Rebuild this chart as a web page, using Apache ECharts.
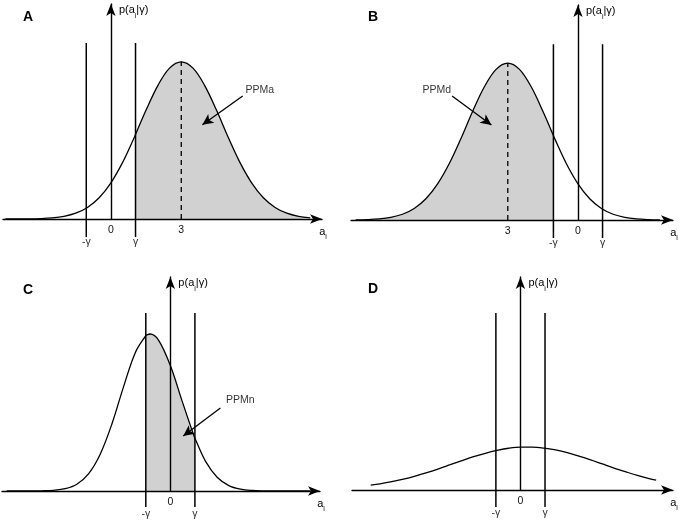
<!DOCTYPE html>
<html><head><meta charset="utf-8">
<script src="https://cdn.jsdelivr.net/npm/echarts@6/dist/echarts.min.js"></script>
<style>html,body{margin:0;padding:0;background:#fff}#c{width:680px;height:523px}</style>
</head><body><div id="c"></div>
<script>
// ---- data ----
const gamma = 1.05;
const panelLetters = ['A', 'B', 'C', 'D'];

const xsA = [-4.5,-4,-3.5,-3,-2.5,-2,-1.5,-1,-0.5,0,0.5,1,1.05,1.5,2,2.5,3,3.5,4,4.5,5,5.5,6,6.5,7,7.5,8,8.5];
const ysA = [0.0001,0.0003,0.001,0.0028,0.0072,0.0169,0.0367,0.0734,0.135,0.230,0.360,0.520,0.538,0.693,0.849,0.960,1,0.960,0.849,0.693,0.520,0.360,0.230,0.135,0.0734,0.0367,0.0169,0.0072];

const xsB = [-9.5,-9,-8.5,-8,-7.5,-7,-6.5,-6,-5.5,-5,-4.5,-4,-3.5,-3,-2.5,-2,-1.5,-1.05,-1,-0.5,0,0.5,1,1.5,2,2.5,3,3.5];
const ysB = [0.001,0.0028,0.0072,0.0169,0.0367,0.0734,0.135,0.230,0.360,0.520,0.693,0.849,0.960,1,0.960,0.849,0.693,0.538,0.520,0.360,0.230,0.135,0.0734,0.0367,0.0169,0.0072,0.0028,0.001];

const xsC = [-7,-6.5,-6,-5.5,-5,-4.5,-4,-3.5,-3,-2.5,-2,-1.5,-1.05,-1,-0.87,-0.5,0,0.5,1,1.05,1.5,2,2.5,3,3.5,4,4.5,5,5.5,6];
const ysC = [0,0,0.0002,0.0011,0.0043,0.0147,0.0434,0.109,0.234,0.427,0.665,0.881,0.990,0.995,1,0.960,0.799,0.574,0.355,0.336,0.190,0.0874,0.0347,0.0119,0.0035,0.0009,0.0002,0,0,0];

const xsD = [-6.4,-6,-5.5,-5,-4.5,-4,-3.5,-3,-2.5,-2,-1.5,-1,-0.5,0,0.5,1,1.5,2,2.5,3,3.5,4,4.5,5,5.5,5.8];
const ysD = [0.0307,0.0394,0.0530,0.0695,0.0890,0.111,0.135,0.161,0.187,0.212,0.234,0.252,0.266,0.273,0.273,0.267,0.255,0.238,0.216,0.192,0.166,0.140,0.116,0.093,0.073,0.0626];

const tickValsA = [-gamma, 0, gamma, 3];   const tickLabelsA = ['-γ', '0', 'γ', '3'];
const tickValsB = [-3, -gamma, 0, gamma];  const tickLabelsB = ['3', '-γ', '0', 'γ'];
const tickValsC = [-gamma, 0, gamma];      const tickLabelsC = ['-γ', '0', 'γ'];
const tickValsD = [-gamma, 0, gamma];      const tickLabelsD = ['-γ', '0', 'γ'];

const peakA = 3, peakB = -3;                // dashed line at the mode
const shadeA = [gamma, 99];                 // shaded interval (PPMa)
const shadeB = [-99, -gamma];               // shaded interval (PPMd)
const shadeC = [-gamma, gamma];             // shaded interval (PPMn)

const noteTextA = 'PPMa', notePosA = [6.35, 0.82],  arrowA = [[5.62, 0.783], [3.9, 0.6]];
const noteTextB = 'PPMd', notePosB = [-6.03, 0.828], arrowB = [[-5.38, 0.79], [-3.7, 0.605]];
const noteTextC = 'PPMn', notePosC = [2.99, 0.58],  arrowC = [[2.14, 0.529], [0.55, 0.35]];

const spanA = [-0.115, 1.12], spanB = [-0.115, 1.12], spanC = [-0.102, 1.134], spanD = [-0.108, 1.127];

// ---- layout ----
const FONT = 'Liberation Sans, Arial, Helvetica, sans-serif';
const grids = [
  {left: 3,   top: 4,   width: 319, height: 215},
  {left: 351, top: 5,   width: 322, height: 215},
  {left: 2,   top: 277, width: 318, height: 214},
  {left: 352, top: 277, width: 321, height: 213}
];
const xRanges = [[-4.6, 9.0], [-9.7, 4.06], [-7.2, 6.4], [-7.2, 6.52]];
const yMaxes = [1.368, 1.37, 1.363, 1.357];
const letterPos = [[23, 10], [368, 10], [23, 283], [368, 282]];

const panels = [
  {xs: xsA, ys: ysA, ticks: tickValsA, labels: tickLabelsA, peak: peakA, shade: shadeA, note: noteTextA, notePos: notePosA, arrow: arrowA, span: spanA},
  {xs: xsB, ys: ysB, ticks: tickValsB, labels: tickLabelsB, peak: peakB, shade: shadeB, note: noteTextB, notePos: notePosB, arrow: arrowB, span: spanB},
  {xs: xsC, ys: ysC, ticks: tickValsC, labels: tickLabelsC, peak: null, shade: shadeC, note: noteTextC, notePos: notePosC, arrow: arrowC, span: spanC},
  {xs: xsD, ys: ysD, ticks: tickValsD, labels: tickLabelsD, peak: null, shade: null, note: null, notePos: null, arrow: null, span: spanD}
];

const subRich = {
  n: {fontSize: 11, fontFamily: FONT, color: '#000', lineHeight: 14, verticalAlign: 'middle'},
  s: {fontSize: 7, fontFamily: FONT, color: '#000', lineHeight: 19, verticalAlign: 'bottom'}
};

const option = {animation: false, backgroundColor: '#fff', title: [], grid: [], xAxis: [], yAxis: [], series: []};

panels.forEach((p, i) => {
  option.title.push({text: panelLetters[i], left: letterPos[i][0], top: letterPos[i][1], padding: 0,
    textStyle: {fontSize: 14, fontWeight: 'bold', fontFamily: FONT, color: '#000'}});
  option.grid.push(Object.assign({containLabel: false}, grids[i]));
  option.xAxis.push({
    type: 'value', gridIndex: i, min: xRanges[i][0], max: xRanges[i][1], z: 3,
    splitLine: {show: false}, axisTick: {show: false},
    axisLine: {onZero: true, symbol: ['none', 'arrow'], symbolSize: [7, 12], lineStyle: {color: '#000', width: 1.4}},
    axisLabel: {
      customValues: p.ticks, margin: 6, fontSize: 10.5, fontFamily: FONT, color: '#111',
      formatter: v => {
        let k = 0, best = 1e9;
        p.ticks.forEach((t, j) => { if (Math.abs(t - v) < best) { best = Math.abs(t - v); k = j; } });
        const s = p.labels[k];
        return s.indexOf('γ') >= 0 ? '{g|' + s + '}' : s;
      },
      rich: {g: {fontSize: 10.5, fontFamily: FONT, color: '#333', padding: [12, 0, 0, 0]}}
    },
    name: '{n|a}{s|i}', nameLocation: 'end', nameGap: 1,
    nameTextStyle: {align: 'center', verticalAlign: 'top', padding: [3, 0, 0, 0], rich: subRich}
  });
  option.yAxis.push({
    type: 'value', gridIndex: i, min: 0, max: yMaxes[i], z: 3,
    splitLine: {show: false}, axisTick: {show: false}, axisLabel: {show: false},
    axisLine: {onZero: true, symbol: ['none', 'arrow'], symbolSize: [7, 12], lineStyle: {color: '#000', width: 1.4}},
    name: '{n|p(a}{s|i}{n||γ)}', nameLocation: 'end', nameGap: -6,
    nameTextStyle: {align: 'left', verticalAlign: 'middle', padding: [0, 0, 0, 8], rich: subRich}
  });

  const curve = p.xs.map((x, j) => [x, p.ys[j]]);
  if (p.shade) {
    option.series.push({
      type: 'line', xAxisIndex: i, yAxisIndex: i, smooth: 0.35, symbol: 'none', silent: true, z: 1,
      data: curve.filter(d => d[0] >= p.shade[0] - 1e-9 && d[0] <= p.shade[1] + 1e-9),
      lineStyle: {width: 0, opacity: 0}, areaStyle: {color: '#d1d1d1', opacity: 1}
    });
  }
  const curveSeries = {
    type: 'line', xAxisIndex: i, yAxisIndex: i, smooth: 0.35, symbol: 'none', silent: true, z: 4,
    data: curve, lineStyle: {color: '#000', width: 1.3}
  };
  if (p.arrow) {
    curveSeries.markLine = {
      silent: true, symbol: ['none', 'arrow'], symbolSize: [8, 11], label: {show: false}, animation: false,
      lineStyle: {color: '#000', width: 1.3, type: 'solid'},
      data: [[{coord: p.arrow[0]}, {coord: p.arrow[1]}]]
    };
  }
  option.series.push(curveSeries);

  [-gamma, gamma].forEach(g => {
    option.series.push({
      type: 'line', xAxisIndex: i, yAxisIndex: i, symbol: 'none', silent: true, clip: false, z: 3,
      data: [[g, p.span[0]], [g, p.span[1]]], lineStyle: {color: '#000', width: 1.5}
    });
  });
  if (p.peak !== null) {
    const k = p.xs.indexOf(p.peak);
    option.series.push({
      type: 'line', xAxisIndex: i, yAxisIndex: i, symbol: 'none', silent: true, z: 3,
      data: [[p.peak, 0], [p.peak, p.ys[k]]], lineStyle: {color: '#000', width: 1.3, type: [5, 4]}
    });
  }
  if (p.note) {
    option.series.push({
      type: 'scatter', xAxisIndex: i, yAxisIndex: i, symbolSize: 1, silent: true, z: 5,
      itemStyle: {color: 'rgba(0,0,0,0)'},
      data: [p.notePos],
      label: {show: true, position: 'inside', formatter: () => p.note, fontSize: 10.5, fontFamily: FONT, color: '#000'}
    });
  }
});

const chart = echarts.init(document.getElementById('c'), null, {renderer: 'canvas'});
chart.setOption(option);
</script>
</body></html>
